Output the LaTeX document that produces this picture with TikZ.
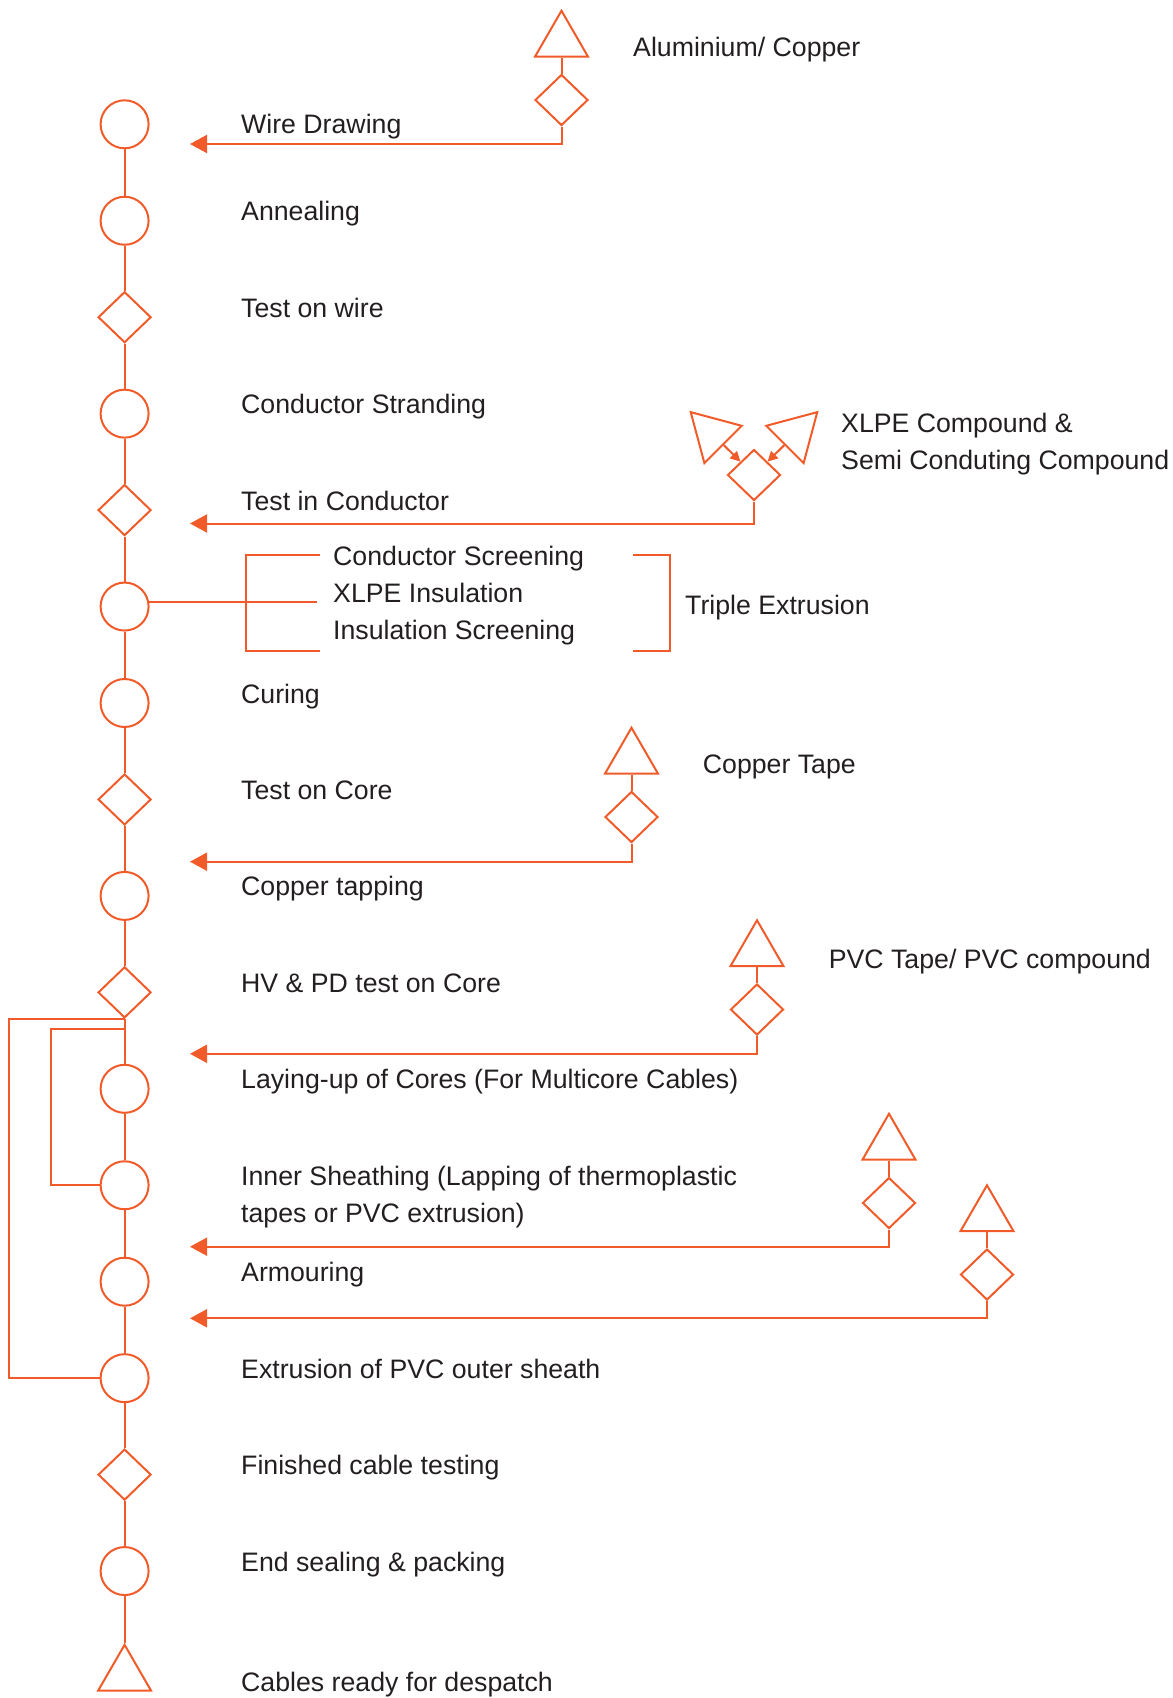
\documentclass[tikz,border=0pt]{standalone}
\usepackage{fontspec}
\setmainfont{Liberation Sans}
\usetikzlibrary{
    arrows.meta,
    positioning,
    shapes.geometric,
    calc
}
\definecolor{cable}{HTML}{F15A29}
\definecolor{ink}{HTML}{231F20}

\begin{document}
\begin{tikzpicture}[
    x=1pt, y=-1pt,
    node distance=96.45pt,
    % Shapes of the process chart
    proc/.style={
        circle, draw=cable, line width=2pt,
        minimum size=48pt, inner sep=0pt, on grid
    },
    check/.style={
        diamond, draw=cable, line width=2pt,
        minimum width=53pt, minimum height=51pt, inner sep=0pt, on grid
    },
    supply/.style={
        regular polygon, regular polygon sides=3, draw=cable,
        line width=2pt, minimum size=61pt, inner sep=0pt
    },
    stagetext/.style={
        anchor=base west, inner sep=0pt, text=ink, align=left,
        font=\fontsize{26.7pt}{36.8pt}\selectfont
    },
    flow/.style={
        draw=cable,
        line width=2pt
    },
    feed/.style={
        flow,
        -{Triangle[length=17pt, width=18pt]}
    },
    pull/.style={
        flow,
        -{Triangle[length=10pt, width=10pt]}
    }
]
    \useasboundingbox (0,0) rectangle (1173,1698);
    \coordinate (lx) at (241,0);

    % Main process line
    \node[proc] (drawing) at (124.6,124.3) {};
    \node[proc, below=of drawing] (annealing) {};
    \node[check, below=of annealing] (wiretest) {};
    \node[proc, below=of wiretest] (stranding) {};
    \node[check, below=of stranding] (condtest) {};
    \node[proc, below=of condtest] (extrusion) {};
    \node[proc, below=of extrusion] (curing) {};
    \node[check, below=of curing] (coretest) {};
    \node[proc, below=of coretest] (taping) {};
    \node[check, below=of taping] (hvtest) {};
    \node[proc, below=of hvtest] (laying) {};
    \node[proc, below=of laying] (inner) {};
    \node[proc, below=of inner] (armour) {};
    \node[proc, below=of armour] (outer) {};
    \node[check, below=of outer] (finaltest) {};
    \node[proc, below=of finaltest] (sealing) {};
    \node[supply, on grid, below=104.25pt of sealing] (despatch) {};

    \draw[flow] (drawing) -- (annealing);
    \draw[flow] (annealing) -- (wiretest);
    \draw[flow] (wiretest) -- (stranding);
    \draw[flow] (stranding) -- (condtest);
    \draw[flow] (condtest) -- (extrusion);
    \draw[flow] (extrusion) -- (curing);
    \draw[flow] (curing) -- (coretest);
    \draw[flow] (coretest) -- (taping);
    \draw[flow] (taping) -- (hvtest);
    \draw[flow] (hvtest) -- (laying);
    \draw[flow] (laying) -- (inner);
    \draw[flow] (inner) -- (armour);
    \draw[flow] (armour) -- (outer);
    \draw[flow] (outer) -- (finaltest);
    \draw[flow] (finaltest) -- (sealing);
    \draw[flow] (sealing) -- (despatch);

    % Step names
    \node[stagetext, yshift=-9pt] (drawing-lbl) at (drawing -| lx) {Wire Drawing};
    \node[stagetext] (annealing-lbl) at (annealing -| lx) {Annealing};
    \node[stagetext] (wiretest-lbl) at (wiretest -| lx) {Test on wire};
    \node[stagetext] (stranding-lbl) at (stranding -| lx) {Conductor Stranding};
    \node[stagetext] (condtest-lbl) at (condtest -| lx) {Test in Conductor};
    \node[stagetext] (curing-lbl) at (curing -| lx) {Curing};
    \node[stagetext] (coretest-lbl) at (coretest -| lx) {Test on Core};
    \node[stagetext] (taping-lbl) at (taping -| lx) {Copper tapping};
    \node[stagetext] (hvtest-lbl) at (hvtest -| lx) {HV \& PD test on Core};
    \node[stagetext] (laying-lbl) at (laying -| lx) {Laying-up of Cores (For Multicore Cables)};
    \node[stagetext, yshift=-36.8pt] (inner-lbl) at (inner -| lx) {Inner Sheathing (Lapping of thermoplastic\\tapes or PVC extrusion)};
    \node[stagetext] (armour-lbl) at (armour -| lx) {Armouring};
    \node[stagetext] (outer-lbl) at (outer -| lx) {Extrusion of PVC outer sheath};
    \node[stagetext] (finaltest-lbl) at (finaltest -| lx) {Finished cable testing};
    \node[stagetext] (sealing-lbl) at (sealing -| lx) {End sealing \& packing};
    \node[stagetext] (despatch-lbl) at (despatch.south -| lx) {Cables ready for despatch};

    % Triple extrusion
    \coordinate (split) at (317,0);
    \draw[flow] (extrusion.10) -- (extrusion.10 -| split);
    \draw[flow] (320,555) -| (246,651) -- (320,651);
    \draw[flow] (633,555) -| (670,651) -- (633,651);
    \node[stagetext] (layers-lbl) at (333,639.5) {Conductor Screening\\XLPE Insulation\\Insulation Screening};
    \node[stagetext] (triple-lbl) at (685,614) {Triple Extrusion};

    % Raw materials fed into the line
    \node[check] (alu-chk) at (561.5,100) {};
    \node[supply, above=16pt of alu-chk] (alu-src) {};
    \node[stagetext] (alu-lbl) at (633,56.7) {Aluminium/ Copper};

    \node[check] (xlpe-chk) at (754,475) {};
    \node[supply, rotate=45] (xlpe-l) at (712.3,433.7) {};
    \node[supply, rotate=-45] (xlpe-r) at (795.7,433.7) {};
    \node[stagetext] (xlpe-lbl) at (841,469) {XLPE Compound \&\\Semi Conduting Compound};

    \node[check] (cu-chk) at (631.5,817) {};
    \node[supply, above=16pt of cu-chk] (cu-src) {};
    \node[stagetext] (cu-lbl) at (702.7,773.3) {Copper Tape};

    \node[check] (pvc-chk) at (757,1009.5) {};
    \node[supply, above=16pt of pvc-chk] (pvc-src) {};
    \node[stagetext] (pvc-lbl) at (828.6,968) {PVC Tape/ PVC compound};

    \node[check] (inner-chk) at (889,1203) {};
    \node[supply, above=16pt of inner-chk] (inner-src) {};

    \node[check] (armour-chk) at (987,1274.5) {};
    \node[supply, above=16pt of armour-chk] (armour-src) {};

    \draw[flow] (alu-src) -- (alu-chk);
    \draw[flow] (cu-src) -- (cu-chk);
    \draw[flow] (pvc-src) -- (pvc-chk);
    \draw[flow] (inner-src) -- (inner-chk);
    \draw[flow] (armour-src) -- (armour-chk);
    \draw[pull] (xlpe-l.side 2) -- (xlpe-chk);
    \draw[pull] (xlpe-r.side 2) -- (xlpe-chk);

    % Feed arrows into the main line
    \coordinate (drawing-in) at (190,144);
    \coordinate (condtest-in) at (190,523.5);
    \coordinate (taping-in) at (190,861.7);
    \coordinate (laying-in) at (190,1053.8);
    \coordinate (inner-in) at (190,1246.7);
    \coordinate (armour-in) at (190,1318.3);
    \draw[feed] (alu-chk.south) |- (drawing-in);
    \draw[feed] (xlpe-chk.south) |- (condtest-in);
    \draw[feed] (cu-chk.south) |- (taping-in);
    \draw[feed] (pvc-chk.south) |- (laying-in);
    \draw[feed] (inner-chk.south) |- (inner-in);
    \draw[feed] (armour-chk.south) |- (armour-in);

    % Return lines from HV test
    \coordinate (hv-tap) at ($(hvtest.south)+(0,10.3)$);
    \coordinate (outer-loop) at (8.5,1200);
    \coordinate (inner-loop) at (51,1100);
    \draw[flow] (hvtest.south) -| (outer-loop) |- (outer.west);
    \draw[flow] (hv-tap) -| (inner-loop) |- (inner.west);
\end{tikzpicture}
\end{document}
